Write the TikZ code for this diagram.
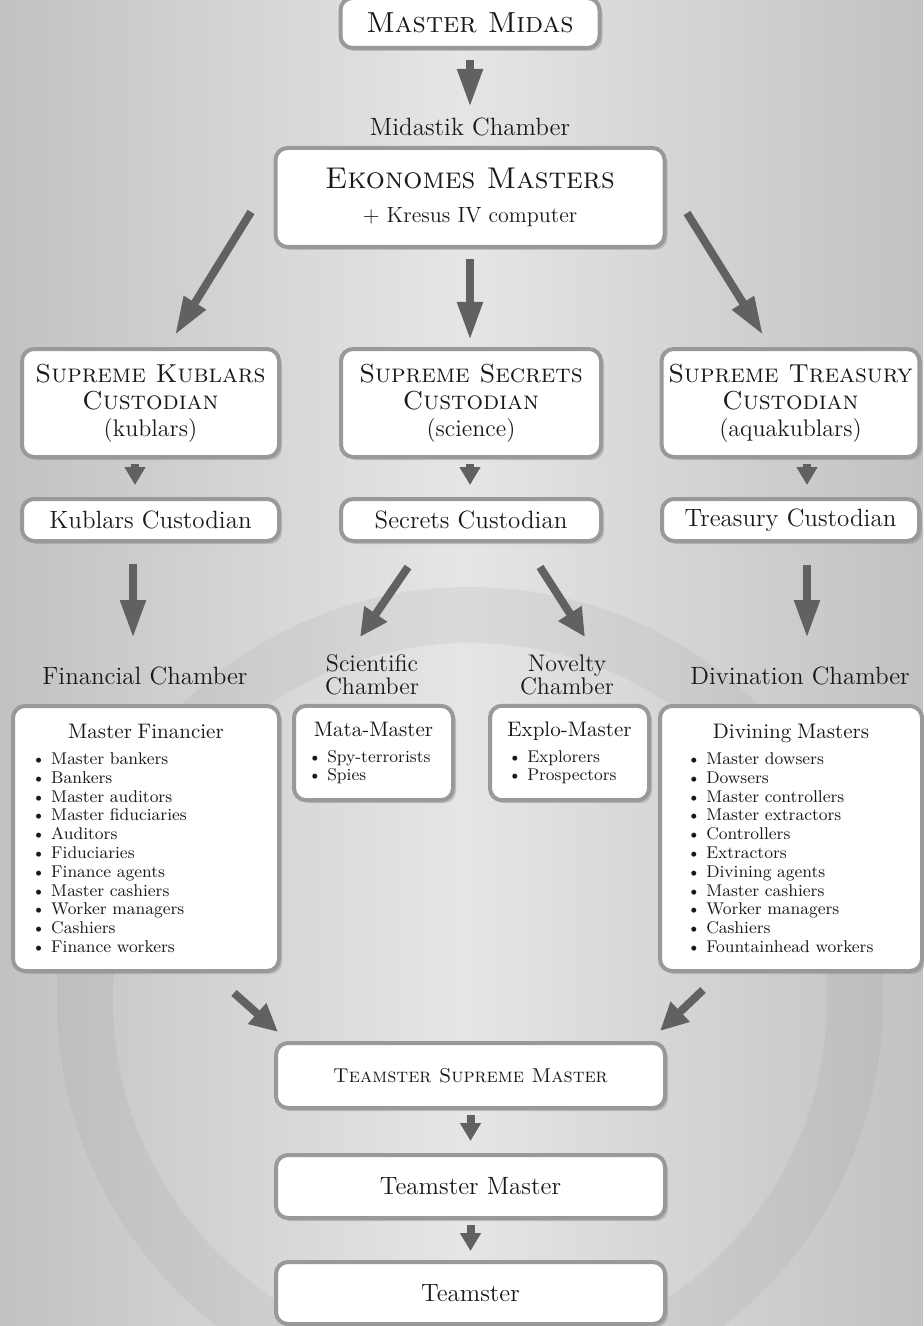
\documentclass[tikz,border=0pt]{standalone}
\usepackage{xcolor}
\usepackage{tikz}
\usetikzlibrary{arrows.meta,shadows}

\definecolor{bgdark}{gray}{0.76}
\definecolor{bglight}{gray}{0.9}
\definecolor{edgegray}{gray}{0.6}
\definecolor{arrowgray}{gray}{0.38}
\definecolor{inkgray}{gray}{0.1}

\newcommand{\midasfont}{\fontsize{14.5}{16}\selectfont}
\newcommand{\topfont}{\fontsize{15}{17}\selectfont}
\newcommand{\supfont}{\fontsize{13}{13.5}\selectfont}
\newcommand{\hdfont}{\fontsize{12.5}{13}\selectfont}
\newcommand{\twofont}{\fontsize{12}{11.5}\selectfont}
\newcommand{\subfont}{\fontsize{10.5}{12}\selectfont}
\newcommand{\listfont}{\fontsize{8.5}{9.4}\selectfont}

\begin{document}
\begin{tikzpicture}[x=0.5pt, y=-0.5pt,
    box/.style={draw=edgegray, line width=2pt, fill=white, rounded corners=6pt, align=center, text=inkgray,
        drop shadow={opacity=0.35, shadow xshift=1.5pt, shadow yshift=-1.5pt}},
    supbox/.style={box, font=\supfont, minimum height=54pt},
    custbox/.style={box, font=\hdfont, minimum height=21pt, inner sep=2pt},
    listbox/.style={box, align=left, font=\listfont, inner ysep=8pt},
    chamber/.style={text=inkgray, font=\hdfont, align=center, inner sep=0pt},
    bigarr/.style={draw=arrowgray, line width=4pt, -{Triangle[length=19pt, width=12pt]}},
    midarr/.style={draw=arrowgray, line width=4pt, -{Triangle[length=14pt, width=13pt]}},
    smallarr/.style={draw=arrowgray, line width=4pt, -{Triangle[length=9pt, width=10pt]}}]

    % Background
    \useasboundingbox (0,0) rectangle (923,1326);
    \shade[left color=bgdark, right color=bglight] (0,0) rectangle (461.5,1326);
    \shade[left color=bglight, right color=bgdark] (461.5,0) rectangle (923,1326);
    \draw[gray, opacity=0.1, line width=28pt] (470,1000) circle (385);

    % Top
    \node[box, font=\midasfont, minimum width=129.5pt, minimum height=25pt] (midas) at (470,23) {\textsc{Master Midas}};
    \node[chamber] (midastik) at (470,127) {Midastik Chamber};
    \node[box, minimum width=194.5pt, minimum height=49.5pt] (ekon) at (470,197.5)
        {{\topfont\textsc{Ekonomes Masters}}\\[5pt]{\fontsize{11}{13}\selectfont + Kresus IV computer}};

    % Supreme custodians
    \node[supbox, minimum width=128.5pt] (supkub) at (150.5,403)
        {\textsc{Supreme Kublars}\\\textsc{Custodian}\\{\fontsize{12}{13.5}\selectfont(kublars)}};
    \node[supbox, minimum width=130pt] (supsec) at (471,403)
        {\textsc{Supreme Secrets}\\\textsc{Custodian}\\{\fontsize{12}{13.5}\selectfont(science)}};
    \node[supbox, minimum width=128.5pt] (suptre) at (790.5,403)
        {\textsc{Supreme Treasury}\\\textsc{Custodian}\\{\fontsize{12}{13.5}\selectfont(aquakublars)}};

    % Custodians
    \node[custbox, minimum width=128.5pt] (kubcust) at (150.5,520) {Kublars Custodian};
    \node[custbox, minimum width=130pt] (seccust) at (471,520) {Secrets Custodian};
    \node[custbox, minimum width=128.5pt] (trecust) at (790.5,520) {Treasury Custodian};

    % Chambers
    \node[chamber] (fincham) at (145,676) {Financial Chamber};
    \node[chamber, font=\twofont] (scicham) at (372,675) {Scientific\\Chamber};
    \node[chamber, font=\twofont] (novcham) at (567,675) {Novelty\\Chamber};
    \node[chamber] (divcham) at (800,676) {Divination Chamber};

    \node[listbox, text width=114pt, inner xsep=9.5pt, minimum height=132.5pt] (finbox) at (146,838.5)
        {\makebox[\linewidth]{\subfont Master Financier}\\[3.5pt]
         \textbullet~Master bankers\\ \textbullet~Bankers\\ \textbullet~Master auditors\\
         \textbullet~Master fiduciaries\\ \textbullet~Auditors\\ \textbullet~Fiduciaries\\
         \textbullet~Finance agents\\ \textbullet~Master cashiers\\ \textbullet~Worker managers\\
         \textbullet~Cashiers\\ \textbullet~Finance workers};
    \node[listbox, text width=65.5pt, inner xsep=7pt, minimum height=47pt] (mata) at (373.5,753)
        {\makebox[\linewidth]{\subfont Mata-Master}\\[3.5pt]
         \textbullet~Spy-terrorists\\ \textbullet~Spies};
    \node[listbox, text width=61.5pt, inner xsep=9pt, minimum height=47pt] (explo) at (569.5,753)
        {\makebox[\linewidth]{\subfont Explo-Master}\\[3.5pt]
         \textbullet~Explorers\\ \textbullet~Prospectors};
    \node[listbox, text width=104pt, inner xsep=13.5pt, minimum height=132.5pt] (divbox) at (791,838.5)
        {\makebox[\linewidth]{\subfont Divining Masters}\\[3.5pt]
         \textbullet~Master dowsers\\ \textbullet~Dowsers\\ \textbullet~Master controllers\\
         \textbullet~Master extractors\\ \textbullet~Controllers\\ \textbullet~Extractors\\
         \textbullet~Divining agents\\ \textbullet~Master cashiers\\ \textbullet~Worker managers\\
         \textbullet~Cashiers\\ \textbullet~Fountainhead workers};

    % Teamsters
    \node[box, font={\fontsize{10}{12}\selectfont}, minimum width=194.5pt, minimum height=32.5pt] (tsm) at (470.5,1075.5)
        {\textsc{Teamster Supreme Master}};
    \node[box, font=\hdfont, minimum width=194.5pt, minimum height=31.5pt] (tm) at (470.5,1186.5) {Teamster Master};
    \node[box, font=\hdfont, minimum width=194.5pt, minimum height=31pt] (team) at (470.5,1293) {Teamster};

    % Arrows
    \draw[bigarr] ([shift={(0,10)}]midas.south) -- ([shift={(0,-20)}]midastik.center);
    \draw[bigarr] ([shift={(-22.5,14.5)}]ekon.west) -- ([shift={(24.5,-12)}]supkub.north);
    \draw[bigarr] ([shift={(0,10)}]ekon.south) -- ([shift={(-1,-7)}]supsec.north);
    \draw[bigarr] ([shift={(20.5,15.5)}]ekon.east) -- ([shift={(-27.5,-12)}]suptre.north);

    \draw[smallarr] ([shift={(-15.5,5)}]supkub.south) -- ([shift={(-15.5,-12)}]kubcust.north);
    \draw[smallarr] ([shift={(-1,5)}]supsec.south) -- ([shift={(-1,-12)}]seccust.north);
    \draw[smallarr] ([shift={(16.5,5)}]suptre.south) -- ([shift={(16.5,-12)}]trecust.north);

    \draw[bigarr] ([shift={(-17.5,21)}]kubcust.south) -- ([shift={(-12,-38)}]fincham.center);
    \draw[midarr] ([shift={(-63,24)}]seccust.south) -- ([shift={(-12,-38)}]scicham.center);
    \draw[midarr] ([shift={(69,24)}]seccust.south) -- ([shift={(18,-38)}]novcham.center);
    \draw[bigarr] ([shift={(16.5,22)}]trecust.south) -- ([shift={(7,-38)}]divcham.center);

    \draw[midarr] ([shift={(-47,20)}]finbox.south east) -- ([shift={(4,-9)}]tsm.north west);
    \draw[midarr] ([shift={(45,17)}]divbox.south west) -- ([shift={(-7,-10)}]tsm.north east);
    \draw[smallarr] ([shift={(0,5)}]tsm.south) -- ([shift={(0,-12)}]tm.north);
    \draw[smallarr] ([shift={(0,5)}]tm.south) -- ([shift={(0,-9)}]team.north);

\end{tikzpicture}
\end{document}
